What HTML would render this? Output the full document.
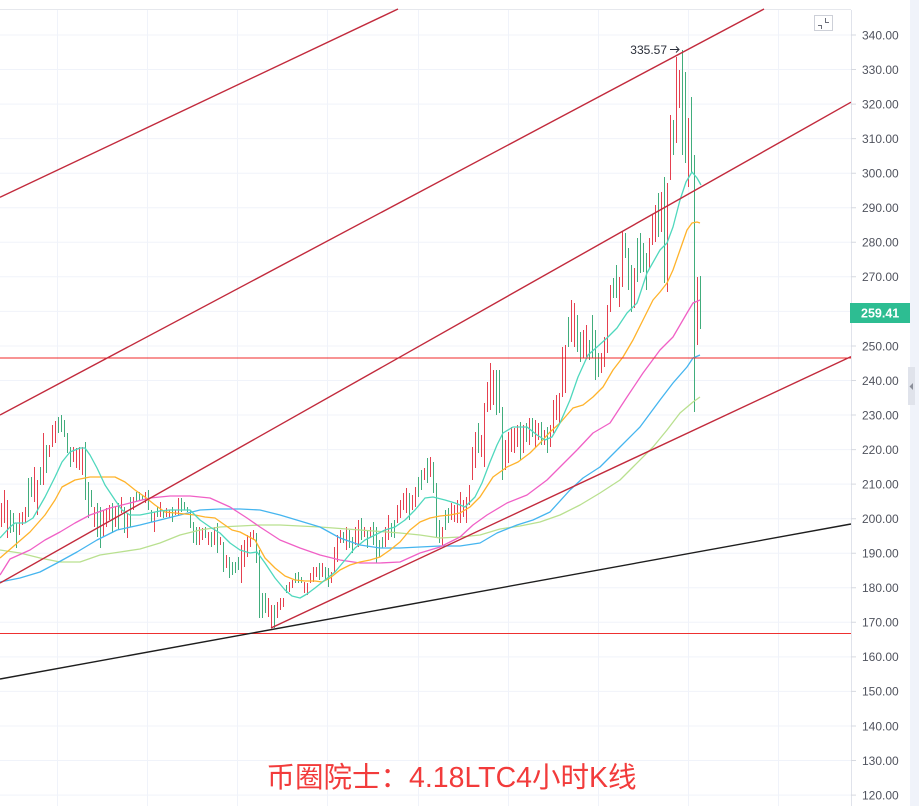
<!DOCTYPE html>
<html><head><meta charset="utf-8"><style>
html,body{margin:0;padding:0;background:#fff;}
svg{display:block;}
.ax{font-family:"Liberation Sans",sans-serif;font-size:12px;fill:#50535e;}
</style></head><body>
<svg width="919" height="806" viewBox="0 0 919 806" xmlns="http://www.w3.org/2000/svg">
<rect x="0" y="0" width="919" height="806" fill="#fff"/>
<!-- grid -->
<g stroke="#f0f3fa" stroke-width="1">
<path d="M57.5 10V806M147.5 10V806M237.5 10V806M327.5 10V806M418.5 10V806M508.5 10V806M598.5 10V806M688.5 10V806M778.5 10V806"/>
<path d="M0 35H851M0 69.5H851M0 104.1H851M0 138.6H851M0 173.2H851M0 207.7H851M0 242.3H851M0 276.8H851M0 311.4H851M0 346H851M0 380.5H851M0 415H851M0 449.6H851M0 484.1H851M0 518.7H851M0 553.2H851M0 587.8H851M0 622.3H851M0 656.9H851M0 691.4H851M0 726H851M0 760.5H851M0 795.1H851"/>
</g>
<line x1="0" y1="9.5" x2="910" y2="9.5" stroke="#e6e8ed" stroke-width="1"/>
<!-- bars -->
<path fill="none" stroke="#e5404f" stroke-width="1" d="M1.5 503V527M4.5 490V523M7.5 500V538M19.5 513V535M22.5 512V525M25.5 507V523M34.5 467V502M37.5 480V515M43.5 433V485M49.5 445V457M52.5 425V447M55.5 421V443M73.5 447V462M76.5 448V468M79.5 447V470M82.5 447V475M94.5 507V527M103.5 510V537M106.5 508V527M109.5 505V520M115.5 507V527M121.5 497V513M127.5 513V538M133.5 497V510M145.5 492V503M154.5 512V532M160.5 502V517M166.5 508V517M169.5 510V518M175.5 510V515M178.5 498V515M199.5 527V545M202.5 528V540M208.5 532V545M214.5 527V545M220.5 537V545M226.5 555V568M241.5 545V583M244.5 540V567M247.5 535V557M250.5 532V547M253.5 530V540M268.5 598V617M271.5 605V628M277.5 602V618M280.5 598V610M283.5 598V607M289.5 582V592M292.5 580V588M304.5 582V593M307.5 583V595M310.5 573V583M313.5 567V582M316.5 567V577M322.5 563V577M331.5 572V583M334.5 547V573M337.5 535V562M340.5 530V543M346.5 527V550M355.5 527V545M358.5 520V547M364.5 527V537M370.5 527V538M385.5 527V547M388.5 515V540M397.5 505V523M400.5 500V518M403.5 493V510M406.5 488V513M412.5 495V510M415.5 487V507M424.5 468V480M430.5 457V477M442.5 527V545M451.5 503V520M454.5 505V522M457.5 500V523M460.5 492V523M463.5 500V517M466.5 497V523M469.5 485V505M472.5 447V480M475.5 432V468M481.5 435V457M484.5 403V467M487.5 382V412M490.5 363V410M493.5 370V405M505.5 440V470M508.5 432V463M511.5 427V452M514.5 428V453M517.5 425V447M523.5 425V453M529.5 418V445M535.5 420V447M538.5 423V440M544.5 430V445M550.5 425V447M553.5 400V433M556.5 395V420M559.5 393V423M562.5 347V397M565.5 345V393M571.5 300V342M574.5 303V347M583.5 330V358M586.5 325V357M601.5 353V373M604.5 337V367M607.5 305V353M610.5 285V312M619.5 277V307M622.5 232V287M634.5 268V308M649.5 238V268M652.5 215V245M655.5 205V242M661.5 192V232M667.5 183V292M670.5 115V180M676.5 57V143M679.5 70V108M688.5 118V187M697.5 277V345"/>
<path fill="none" stroke="#41ad7c" stroke-width="1" d="M10.5 510V533M13.5 513V532M16.5 523V548M28.5 478V517M31.5 477V497M40.5 467V485M46.5 445V473M58.5 417V433M61.5 415V432M64.5 420V437M67.5 433V453M70.5 447V467M85.5 442V500M88.5 482V518M91.5 490V507M97.5 503V537M100.5 507V548M112.5 503V533M118.5 503V530M124.5 507V533M130.5 497V527M136.5 492V502M139.5 492V500M142.5 495V500M148.5 490V510M151.5 510V522M157.5 507V517M163.5 510V518M172.5 507V522M181.5 498V512M184.5 502V510M187.5 507V512M190.5 510V528M193.5 522V543M196.5 527V545M205.5 527V538M211.5 532V547M217.5 523V553M223.5 542V572M229.5 557V578M232.5 562V575M235.5 562V573M238.5 557V570M256.5 533V563M259.5 550V618M262.5 593V618M265.5 593V613M274.5 605V628M286.5 585V593M295.5 573V583M298.5 572V583M301.5 577V583M319.5 563V580M325.5 567V580M328.5 568V587M343.5 532V543M349.5 530V548M352.5 537V553M361.5 518V540M367.5 530V548M373.5 522V545M376.5 527V563M379.5 540V557M382.5 537V548M391.5 523V537M394.5 520V538M409.5 493V520M418.5 477V497M421.5 470V490M427.5 458V483M433.5 462V493M436.5 483V537M439.5 520V543M445.5 510V530M448.5 508V523M478.5 423V453M496.5 370V415M499.5 370V413M502.5 407V480M520.5 422V460M526.5 423V442M532.5 418V437M541.5 422V445M547.5 427V453M568.5 317V347M577.5 315V352M580.5 332V362M589.5 340V360M592.5 315V358M595.5 330V380M598.5 353V377M613.5 278V298M616.5 265V298M625.5 233V258M628.5 248V290M631.5 265V312M637.5 238V282M640.5 233V273M643.5 243V272M646.5 253V290M658.5 193V237M664.5 177V283M673.5 120V155M682.5 50V155M685.5 72V163M691.5 97V172M694.5 155V412M700.5 276V329"/>
<!-- moving averages -->
<g fill="none" stroke-width="1.3" stroke-linejoin="round">
<polyline stroke="#b9e08f" points="0,550 20,553 40,558 60,562 80,562 100,555 120,552 140,549 160,543 180,535 200,530 220,527 240,526 260,525 280,525 300,526 320,527 360,530 400,533 420,535 440,538 460,537 480,535 500,529 520,526 540,522 560,515 580,505 600,493 620,480 633,467 653,447 667,430 680,413 693,402 700,397"/>
<polyline stroke="#45b5ef" points="0,582 20,578 40,572 57,563 77,552 97,540 117,530 140,525 160,520 180,515 200,510 220,509 240,509 260,510 280,515 300,521 320,527 340,538 360,545 380,548 400,548 420,547 440,546 460,546 480,543 497,533 517,525 533,520 550,512 570,490 583,478 600,467 620,447 640,427 660,400 673,383 687,367 693,358 700,355"/>
<polyline stroke="#f060c6" points="0,575 10,559 30,550 45,540 60,532 75,523 90,515 110,508 130,503 150,498 170,496 190,496 210,498 230,507 247,518 260,527 280,540 300,548 320,555 340,560 360,563 380,563 400,562 420,553 440,547 460,537 473,525 487,515 507,503 527,495 547,480 560,467 577,450 593,433 610,423 627,397 643,373 660,350 673,337 687,313 693,303 700,300"/>
<polyline stroke="#ffb32b" points="0,558 15,545 30,532 45,515 55,500 62,487 75,480 90,477 105,477 115,477 125,482 135,490 145,497 155,505 165,512 175,513 185,514 195,515 205,517 215,518 222,523 232,530 240,532 255,540 265,558 275,568 285,576 295,580 305,581 315,581 322,582 330,578 340,570 350,565 360,562 370,560 380,557 390,550 400,542 410,530 420,522 430,518 440,516 450,515 460,513 470,507 480,497 493,477 507,467 518,462 530,453 540,443 550,432 560,423 573,408 583,405 593,397 603,387 613,370 623,357 633,340 643,320 653,300 660,292 667,283 673,270 680,250 687,230 692,223 697,222 700,223"/>
<polyline stroke="#4fd8bd" points="0,538 10,527 15,523 25,523 33,518 45,497 55,477 62,462 70,452 80,448 85,448 90,455 97,468 105,485 115,500 122,510 130,515 140,515 150,513 160,511 170,510 180,510 190,510 200,520 210,527 220,533 230,543 240,550 250,553 257,552 265,563 275,578 285,590 292,596 300,598 307,594 315,588 325,580 335,572 345,560 355,548 365,540 375,535 385,530 395,527 405,520 415,510 425,498 433,497 445,500 455,503 465,507 475,497 482,483 490,462 497,445 503,433 513,427 527,427 537,435 545,440 552,437 560,423 570,400 578,377 588,355 597,347 607,338 617,328 627,313 637,303 647,273 660,250 667,243 673,227 680,200 686,182 692,172 697,178 701,185"/>
</g>
<!-- horizontal red lines -->
<line x1="0" y1="358" x2="851" y2="358" stroke="#f02828" stroke-width="1"/>
<line x1="0" y1="633.5" x2="851" y2="633.5" stroke="#ee3030" stroke-width="1"/>
<!-- trendlines -->
<g stroke="#c22a3c" stroke-width="1.4" fill="none">
<line x1="0" y1="197.3" x2="398" y2="9"/>
<line x1="0" y1="415" x2="764" y2="9"/>
<line x1="0" y1="583" x2="851" y2="102.2"/>
<line x1="271" y1="628" x2="851" y2="356.6"/>
</g>
<line x1="0" y1="679" x2="851" y2="524" stroke="#1e1e1e" stroke-width="1.4"/>
<!-- high label -->
<text x="667" y="54" text-anchor="end" font-family="Liberation Sans, sans-serif" font-size="12" fill="#2a2e39">335.57</text>
<path d="M670 49.5H679M676 46.5L679 49.5L676 52.5" stroke="#2a2e39" stroke-width="1" fill="none"/>
<!-- icon -->
<rect x="814.5" y="15.5" width="18" height="15" fill="#fff" stroke="#cdd0d8"/>
<path d="M825.5 18V22.5H829M818 25.5H821.5V29" stroke="#6a6d78" stroke-width="1" fill="none"/>
<!-- price axis -->
<rect x="851" y="0" width="59" height="806" fill="#fff"/>
<line x1="851.5" y1="10" x2="851.5" y2="806" stroke="#e0e3eb" stroke-width="1"/>
<g stroke="#d6d9e0" stroke-width="1">
<path d="M851 35H856M851 69.5H856M851 104.1H856M851 138.6H856M851 173.2H856M851 207.7H856M851 242.3H856M851 276.8H856M851 346H856M851 380.5H856M851 415H856M851 449.6H856M851 484.1H856M851 518.7H856M851 553.2H856M851 587.8H856M851 622.3H856M851 656.9H856M851 691.4H856M851 726H856M851 760.5H856M851 795.1H856"/>
</g>
<g class="ax">
<text x="862" y="39.3">340.00</text>
<text x="862" y="73.8">330.00</text>
<text x="862" y="108.4">320.00</text>
<text x="862" y="142.9">310.00</text>
<text x="862" y="177.5">300.00</text>
<text x="862" y="212">290.00</text>
<text x="862" y="246.6">280.00</text>
<text x="862" y="281.1">270.00</text>
<text x="862" y="350.3">250.00</text>
<text x="862" y="384.8">240.00</text>
<text x="862" y="419.3">230.00</text>
<text x="862" y="453.9">220.00</text>
<text x="862" y="488.4">210.00</text>
<text x="862" y="523">200.00</text>
<text x="862" y="557.5">190.00</text>
<text x="862" y="592.1">180.00</text>
<text x="862" y="626.6">170.00</text>
<text x="862" y="661.2">160.00</text>
<text x="862" y="695.7">150.00</text>
<text x="862" y="730.3">140.00</text>
<text x="862" y="764.8">130.00</text>
<text x="862" y="799.4">120.00</text>
</g>
<rect x="850" y="303" width="60" height="20" fill="#2dbd92"/>
<text x="861" y="317.5" font-family="Liberation Sans, sans-serif" font-size="12.5" font-weight="bold" fill="#fff">259.41</text>
<!-- scrollbar -->
<rect x="910" y="0" width="9" height="806" fill="#f0f3fa"/>
<rect x="908" y="367" width="7" height="38" fill="#e0e3eb"/>
<path d="M913 383L909.5 386.5L913 390Z" fill="#8a8e99"/>
<!-- title -->
<text x="451.5" y="787" text-anchor="middle" font-family="Liberation Sans, 'Noto Sans CJK SC', sans-serif" font-size="28.5" fill="#f23b3b">币圈院士：4.18LTC4小时K线</text>
</svg>
</body></html>
